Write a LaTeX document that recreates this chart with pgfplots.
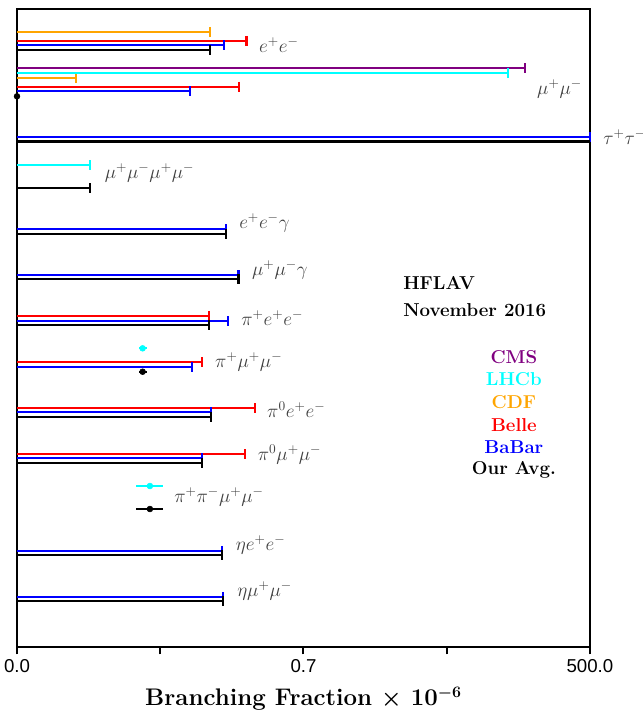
\documentclass[border=0pt]{standalone}
\usepackage{pgfplots}
\pgfplotsset{compat=1.18}
\usepackage{fontspec}
\usepackage{bm}
\newfontfamily\tickfont{Liberation Sans}
\usetikzlibrary{calc}
\definecolor{cmscol}{RGB}{128,0,128}
\definecolor{lhcbcol}{RGB}{0,255,255}
\definecolor{cdfcol}{RGB}{255,165,0}
\definecolor{bellecol}{RGB}{255,0,0}
\definecolor{babarcol}{RGB}{0,0,255}
\pgfplotsset{
  bar/.style={draw=none, mark=none, forget plot,
    error bars/x dir=plus, error bars/x explicit,
    error bars/error bar style={line width=1.75pt, draw=#1},
    error bars/error mark=|,
    error bars/error mark options={line width=1.6pt, mark size=3.7pt, draw=#1}},
  pt/.style={draw=none, mark=*, mark size=2.2pt, forget plot,
    mark options={draw=#1, fill=#1},
    error bars/x dir=both, error bars/x explicit,
    error bars/error bar style={line width=1.75pt, draw=#1},
    error bars/error mark=none},
}
\tikzset{
  lab/.style={anchor=west, inner sep=0pt, text=black!75, font=\fontsize{14}{16}\selectfont},
  leg/.style={anchor=center, inner sep=0pt, font=\bfseries\fontsize{14}{16}\selectfont},
}
\begin{document}
\begin{tikzpicture}
\begin{axis}[
  scale only axis, width=429.75pt, height=478.3pt,
  xmin=0, xmax=4, ymin=9.3, ymax=647, y dir=reverse,
  axis line style={line width=1.6pt},
  xtick={0,1,2,3,4}, xticklabels={0.0,,0.7,,500.0},
  ytick=\empty, xtick pos=bottom, tick align=outside,
  major tick length=5.5pt, every tick/.style={black, line width=1.5pt},
  xticklabel style={font=\tickfont\fontsize{14}{16}\selectfont, anchor=center, yshift=-8.5pt},
  xlabel={\bfseries\fontsize{18}{21}\selectfont Branching Fraction $\bm{\times}$ 10$^{\bm{-6}}$},
  xlabel style={at={(axis description cs:0.5,0)}, anchor=center, yshift=-39pt},
  clip=false,
]
% CDF
\addplot[bar=cdfcol] coordinates {
 (0,31.7) += (1.347,0)
 (0,77.7) += (0.410,0)
};
% Belle
\addplot[bar=bellecol] coordinates {
 (0,40.7) += (1.602,0)
 (0,86.7) += (1.550,0)
 (0,315.7) += (1.340,0)
 (0,362.3) += (1.291,0)
 (0,408.0) += (1.661,0)
 (0,454.0) += (1.592,0)
};
% BaBar
\addplot[bar=babarcol] coordinates {
 (0,45.0) += (1.445,0)
 (0,91.0) += (1.208,0)
 (0,137.0) += (4.000,0)
 (0,229.3) += (1.459,0)
 (0,275.0) += (1.546,0)
 (0,321.0) += (1.473,0)
 (0,367.3) += (1.222,0)
 (0,412.3) += (1.352,0)
 (0,458.3) += (1.291,0)
 (0,550.7) += (1.429,0)
 (0,596.7) += (1.438,0)
};
% Average
\addplot[bar=black] coordinates {
 (0,50.0) += (1.347,0)
 (0,188.3) += (0.510,0)
 (0,234.0) += (1.459,0)
 (0,279.3) += (1.546,0)
 (0,325.0) += (1.340,0)
 (0,417.3) += (1.352,0)
 (0,463.0) += (1.291,0)
 (0,554.7) += (1.429,0)
 (0,600.7) += (1.438,0)
};
% CMS
\addplot[bar=cmscol] coordinates {
 (0,68.3) += (3.546,0)
};
% LHCb
\addplot[bar=lhcbcol] coordinates {
 (0,72.7) += (3.425,0)
 (0,165.0) += (0.510,0)
};
% measured points
\addplot[pt=lhcbcol] coordinates {
 (0.877,348.3) +- (0.028,0)
 (0.928,486.0) +- (0.094,0)
};
\addplot[pt=black] coordinates {
 (0.877,371.7) +- (0.028,0)
 (0.928,509.0) +- (0.094,0)
 (0.000,96.3) +- (0,0)
};
% separator between the two panels
\addplot[black, line width=2pt, forget plot] coordinates {(0,141.7) (4,141.7)};
% mode labels
\node[lab] at (axis cs:1.689,45) {$e^+e^-$};
\node[lab] at (axis cs:3.630,89) {$\mu^+\mu^-$};
\node[lab] at (axis cs:4.091,137) {$\tau^+\tau^-$};
\node[lab] at (axis cs:0.611,173) {$\mu^+\mu^-\mu^+\mu^-$};
\node[lab] at (axis cs:1.550,222.7) {$e^+e^-\gamma$};
\node[lab] at (axis cs:1.640,270) {$\mu^+\mu^-\gamma$};
\node[lab] at (axis cs:1.564,318) {$\pi^+e^+e^-$};
\node[lab] at (axis cs:1.382,361.7) {$\pi^+\mu^+\mu^-$};
\node[lab] at (axis cs:1.745,410) {$\pi^0e^+e^-$};
\node[lab] at (axis cs:1.679,455) {$\pi^0\mu^+\mu^-$};
\node[lab] at (axis cs:1.096,497) {$\pi^+\pi^-\mu^+\mu^-$};
\node[lab] at (axis cs:1.526,545) {$\eta e^+e^-$};
\node[lab] at (axis cs:1.536,591) {$\eta\mu^+\mu^-$};
% annotations
\node[leg, anchor=west] at (axis cs:2.695,283) {HFLAV};
\node[leg, anchor=west] at (axis cs:2.695,310) {November 2016};
\node[leg, text=cmscol] at (axis cs:3.469,356.7) {CMS};
\node[leg, text=lhcbcol] at (axis cs:3.469,379.4) {LHCb};
\node[leg, text=cdfcol] at (axis cs:3.469,402.0) {CDF};
\node[leg, text=bellecol] at (axis cs:3.469,424.7) {Belle};
\node[leg, text=babarcol] at (axis cs:3.469,447.4) {BaBar};
\node[leg, text=black] at (axis cs:3.469,470.0) {Our Avg.};
\end{axis}
\pgfresetboundingbox
\path[use as bounding box] ($(current axis.south west)+(-12.75pt,-50.25pt)$) rectangle ($(current axis.north east)+(39.75pt,7pt)$);
\end{tikzpicture}
\end{document}
